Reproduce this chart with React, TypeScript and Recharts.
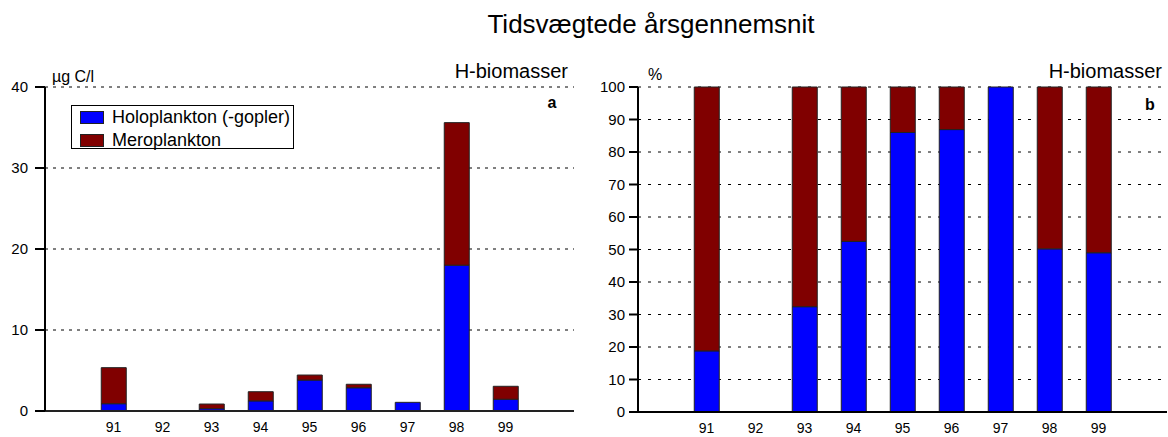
import { BarChart, Bar, XAxis, YAxis, CartesianGrid } from "recharts";

// years on both panels
const YEARS = ["91", "92", "93", "94", "95", "96", "97", "98", "99"];

// panel a: time-weighted biomass, µg C/l
const HOLO_UG = [0.9, 0, 0.28, 1.25, 3.82, 2.87, 1.07, 18.0, 1.45];
const MERO_UG = [4.45, 0, 0.58, 1.13, 0.62, 0.43, 0, 17.6, 1.6];
const TICKS_UG = [0, 10, 20, 30, 40];

// panel b: share in percent (92 has no data)
const HOLO_PCT = [18.8, null, 32.4, 52.5, 86.0, 86.9, 100, 50.2, 49.0];
const MERO_PCT = [81.2, null, 67.6, 47.5, 14.0, 13.1, 0, 49.8, 51.0];
const TICKS_PCT = [0, 10, 20, 30, 40, 50, 60, 70, 80, 90, 100];

const HOLO_COLOR = "#0000FF";
const MERO_COLOR = "#800000";
const FONT = "'Liberation Sans', Arial, Helvetica, sans-serif";

const dataA = YEARS.map((y, i) => ({ year: y, holo: HOLO_UG[i], mero: MERO_UG[i] }));
const dataB = YEARS.map((y, i) => ({ year: y, holo: HOLO_PCT[i], mero: MERO_PCT[i] }));

const tickStyle = { fill: "#000", fontSize: 15, fontFamily: FONT };
const xTickStyle = { fill: "#000", fontSize: 14, fontFamily: FONT };

export default function App() {
  return (
    <div style={{ position: "absolute", left: 0, top: 0, width: 1168, height: 437, background: "#fff", fontFamily: FONT }}>
      {/* left panel */}
      <div style={{ position: "absolute", left: 0, top: 0 }}>
        <BarChart
          width={590}
          height={437}
          data={dataA}
          barCategoryGap="25%"
          margin={{ top: 87, right: 16, left: 0, bottom: 0 }}
        >
          <CartesianGrid vertical={false} stroke="#000" strokeDasharray="3 5" />
          <XAxis
            dataKey="year"
            height={26}
            padding={{ left: 44, right: 44 }}
            tick={xTickStyle}
            tickLine={false}
            tickSize={0}
            tickMargin={11}
            axisLine={{ stroke: "#222", strokeWidth: 2 }}
          />
          <YAxis
            width={45}
            domain={[0, 40]}
            ticks={TICKS_UG}
            tick={tickStyle}
            tickSize={10}
            tickMargin={7}
            tickLine={{ stroke: "#000", strokeWidth: 2 }}
            axisLine={{ stroke: "#000", strokeWidth: 2 }}
          />
          <YAxis
            yAxisId="edge"
            orientation="right"
            width={0}
            domain={[0, 40]}
            tick={false}
            tickLine={false}
            axisLine={{ stroke: "#333", strokeWidth: 1 }}
          />
          <Bar dataKey="holo" stackId="s" fill={HOLO_COLOR} stroke="#222" strokeWidth={1} isAnimationActive={false} />
          <Bar dataKey="mero" stackId="s" fill={MERO_COLOR} stroke="#222" strokeWidth={1} isAnimationActive={false} />
        </BarChart>
      </div>

      {/* right panel */}
      <div style={{ position: "absolute", left: 590, top: 0 }}>
        <BarChart
          width={578}
          height={437}
          data={dataB}
          barCategoryGap="25%"
          margin={{ top: 87, right: 1, left: 0, bottom: 0 }}
        >
          <CartesianGrid vertical={false} stroke="#000" strokeDasharray="3 7" />
          <XAxis
            dataKey="year"
            height={25}
            padding={{ left: 44, right: 44 }}
            tick={xTickStyle}
            tickLine={false}
            tickSize={0}
            tickMargin={11}
            axisLine={{ stroke: "#000", strokeWidth: 2 }}
          />
          <YAxis
            width={48}
            domain={[0, 100]}
            ticks={TICKS_PCT}
            tick={tickStyle}
            tickSize={9}
            tickMargin={4}
            tickLine={{ stroke: "#000", strokeWidth: 2 }}
            axisLine={{ stroke: "#000", strokeWidth: 2 }}
          />
          <Bar dataKey="holo" stackId="s" fill={HOLO_COLOR} stroke="#222" strokeWidth={1} isAnimationActive={false} />
          <Bar dataKey="mero" stackId="s" fill={MERO_COLOR} stroke="#222" strokeWidth={1} isAnimationActive={false} />
        </BarChart>
      </div>

      {/* titles and panel labels */}
      <svg width={1168} height={437} style={{ position: "absolute", left: 0, top: 0, pointerEvents: "none" }}>
        <g fontFamily={FONT} fill="#000">
          <text x={651} y={33} fontSize={26} textAnchor="middle">Tidsvægtede årsgennemsnit</text>
          <text x={52} y={82} fontSize={16}>µg C/l</text>
          <text x={568} y={78} fontSize={20} textAnchor="end">H-biomasser</text>
          <text x={552} y={108} fontSize={16} fontWeight="bold" textAnchor="middle">a</text>
          <text x={648} y={80} fontSize={16}>%</text>
          <text x={1162} y={78} fontSize={20} textAnchor="end">H-biomasser</text>
          <text x={1150} y={110} fontSize={16} fontWeight="bold" textAnchor="middle">b</text>
        </g>
      </svg>

      {/* legend box */}
      <div
        style={{
          position: "absolute",
          left: 71,
          top: 105,
          width: 221,
          height: 42,
          border: "1px solid #000",
          background: "#fff",
          fontSize: 18,
          color: "#000",
        }}
      >
        {[
          { label: "Holoplankton (-gopler)", color: HOLO_COLOR },
          { label: "Meroplankton", color: MERO_COLOR },
        ].map((item, i) => (
          <div key={i} style={{ position: "absolute", left: 8, top: 2 + i * 23, height: 18, display: "flex", alignItems: "center" }}>
            <span style={{ width: 22, height: 11, background: item.color, border: "1px solid #222", marginRight: 8, flexShrink: 0 }} />
            <span style={{ whiteSpace: "nowrap", lineHeight: "18px" }}>{item.label}</span>
          </div>
        ))}
      </div>
    </div>
  );
}
